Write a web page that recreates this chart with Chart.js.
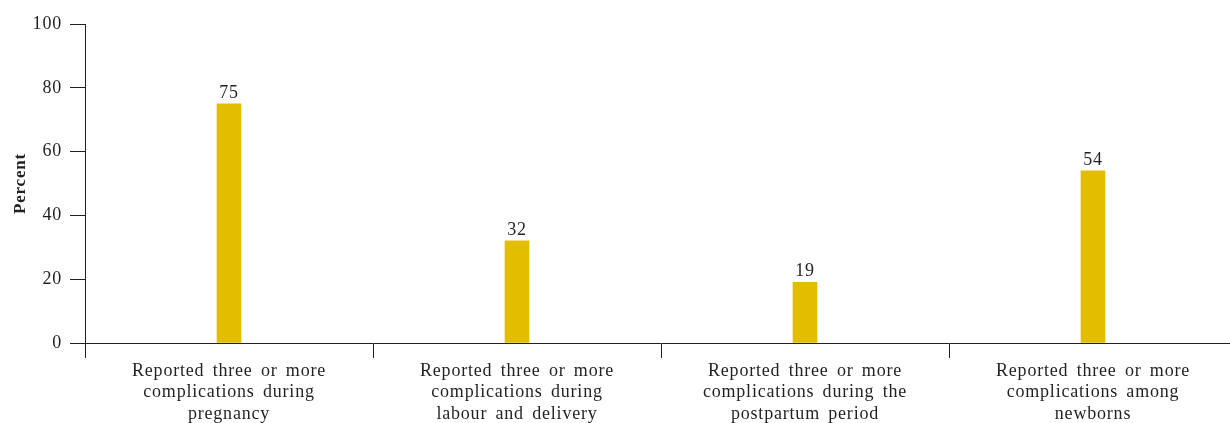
<!DOCTYPE html>
<html>
<head>
<meta charset="utf-8">
<script src="https://cdn.jsdelivr.net/npm/chart.js@4.4.1/dist/chart.umd.min.js"></script>
<style>
  html, body { margin: 0; padding: 0; background: #fff; overflow: hidden; }
  #wrap { width: 1250px; height: 423px; position: relative; }
</style>
</head>
<body>
<div id="wrap"><canvas id="c"></canvas></div>
<script>
const categories = [
  ["Reported three or more", "complications during", "pregnancy"],
  ["Reported three or more", "complications during", "labour and delivery"],
  ["Reported three or more", "complications during the", "postpartum period"],
  ["Reported three or more", "complications among", "newborns"]
];
const values = [75, 32, 19, 54];
const yTicks = [0, 20, 40, 60, 80, 100];
const yTitle = "Percent";

const ink = "#231f20";
const fontFamily = "'Liberation Serif', 'Times New Roman', serif";

const spacingPlugin = {
  id: "spacing",
  beforeDraw(chart) {
    chart.ctx.letterSpacing = "0.8px";
    chart.ctx.wordSpacing = "3px";
  }
};

const valueLabels = {
  id: "valueLabels",
  afterDatasetsDraw(chart) {
    const ctx = chart.ctx;
    const meta = chart.getDatasetMeta(0);
    ctx.save();
    ctx.letterSpacing = "0.8px";
    ctx.font = "18px " + fontFamily;
    ctx.fillStyle = ink;
    ctx.textAlign = "center";
    ctx.textBaseline = "alphabetic";
    meta.data.forEach((bar, i) => {
      ctx.fillText(String(values[i]), bar.x, bar.y - 6);
    });
    ctx.restore();
  }
};

new Chart(document.getElementById("c"), {
  type: "bar",
  data: {
    labels: categories,
    datasets: [{
      data: values,
      backgroundColor: "#E3BD00",
      borderWidth: 0,
      barThickness: 24
    }]
  },
  options: {
    responsive: true,
    maintainAspectRatio: false,
    animation: false,
    events: [],
    layout: { padding: { left: 0, right: 13, top: 24, bottom: 0 } },
    plugins: {
      legend: { display: false },
      tooltip: { enabled: false }
    },
    scales: {
      x: {
        offset: true,
        grid: {
          offset: true,
          drawOnChartArea: false,
          drawTicks: true,
          tickLength: 15,
          color: ink,
          lineWidth: 1
        },
        border: { display: true, color: ink, width: 1 },
        ticks: {
          color: ink,
          font: { family: fontFamily, size: 18, lineHeight: 1.2 },
          padding: 2,
          maxRotation: 0,
          autoSkip: false
        },
        afterFit(scale) { scale.height = 80; }
      },
      y: {
        min: 0,
        max: 100,
        afterBuildTicks(scale) { scale.ticks = yTicks.map(v => ({ value: v })); },
        grid: {
          drawOnChartArea: false,
          drawTicks: true,
          tickLength: 15,
          color: ink,
          lineWidth: 1
        },
        border: { display: true, color: ink, width: 1 },
        ticks: {
          color: ink,
          font: { family: fontFamily, size: 18 },
          padding: 8
        },
        title: {
          display: true,
          text: yTitle,
          color: ink,
          font: { family: fontFamily, size: 17, weight: "bold" },
          padding: { top: 10, bottom: 0 }
        },
        afterFit(scale) { scale.width = 85; }
      }
    }
  },
  plugins: [spacingPlugin, valueLabels]
});
</script>
</body>
</html>
